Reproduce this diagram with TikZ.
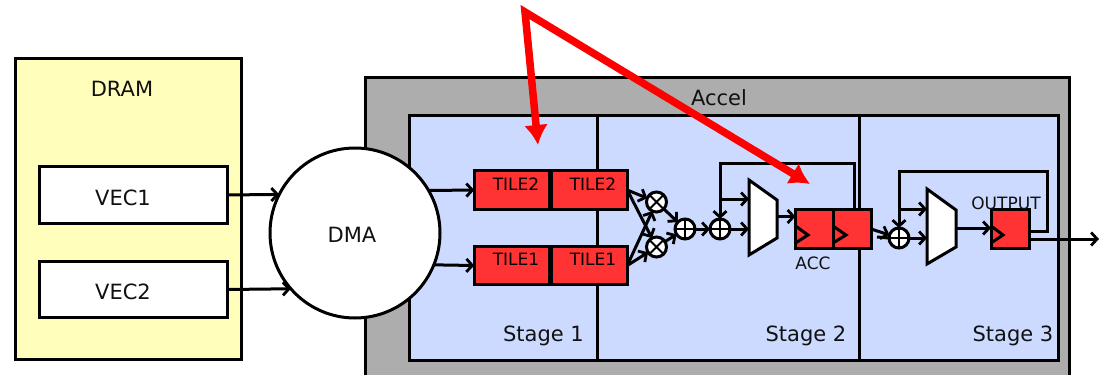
\documentclass[tikz,border=0pt]{standalone}
\usepackage{fontspec}
\setmainfont{DejaVu Sans}
\usetikzlibrary{arrows.meta}
\definecolor{dramfill}{HTML}{FFFFBB}
\definecolor{stagefill}{HTML}{CCDAFF}
\definecolor{accelfill}{HTML}{ADADAD}
\definecolor{regfill}{HTML}{FF3333}
\definecolor{labelgray}{HTML}{111111}
\tikzset{
  base/.style={line width=3pt,draw=black,inner sep=0pt,outer sep=0pt},
  wire/.style={line width=3pt,draw=black,-{Straight Barb[length=6pt,width=13pt,line width=2.8pt]},line join=miter},
  plainwire/.style={line width=3pt,draw=black},
  box/.style={base,fill=white,minimum width=188pt,minimum height=56.5pt},
  tilel/.style={base,fill=regfill,minimum width=75.5pt,minimum height=38.5pt},
  tiler/.style={base,fill=regfill,minimum width=75.5pt,minimum height=38.5pt},
  regbox/.style={base,fill=regfill,minimum width=38pt,minimum height=38.5pt},
  opbase/.style={base,circle,fill=white,minimum size=20pt},
  mulop/.style={opbase,path picture={\draw[line width=2pt]
    (path picture bounding box.north west)--(path picture bounding box.south east)
    (path picture bounding box.north east)--(path picture bounding box.south west);}},
  addop/.style={opbase,path picture={\draw[line width=2pt]
    (path picture bounding box.north)--(path picture bounding box.south)
    (path picture bounding box.east)--(path picture bounding box.west);}},
  muxshape/.style={line width=3pt,draw=black,fill=white,line join=miter},
  clock/.style={line width=3pt,draw=black,line join=miter},
  txt/.style={inner sep=0pt,font=\fontsize{21}{24}\selectfont,text=labelgray},
  small/.style={inner sep=0pt,font=\fontsize{17}{20}\selectfont,text=labelgray},
  redarrow/.style={line width=7.5pt,draw=red,line join=miter,{Latex[length=20pt,width=24pt,red]}-{Latex[length=20pt,width=24pt,red]}}
}
\begin{document}
\begin{tikzpicture}[x=1pt,y=-1pt]
\useasboundingbox (0,0) rectangle (1101,375);
\clip (0,0) rectangle (1101,375);
\fill[white] (0,0) rectangle (1101,375);

% DRAM
\node[base,fill=dramfill,minimum width=226pt,minimum height=301pt] (dram) at (128,208.5) {};
\node[txt] (dramlab) at (122,89) {DRAM};
\node[box] (vec1) at (133,195) {};
\node[txt] (vec1lab) at (123,197.5) {VEC1};
\node[box] (vec2) at (133,289.5) {};
\node[txt] (vec2lab) at (123,291.5) {VEC2};

% Accel
\node[base,fill=accelfill,minimum width=704pt,minimum height=323pt] (accel) at (717,238.5) {};
\node[txt] (accellab) at (719,98) {Accel};
\node[base,fill=stagefill,minimum width=649pt,minimum height=245pt] (stages) at (733.5,237.5) {};
\coordinate (d1) at (597,115);
\coordinate (d2) at (859,115);
\draw[plainwire] (d1) -- (d1 |- stages.south);
\draw[plainwire] (d2) -- (d2 |- stages.south);
\node[txt] (s1) at (543.5,336) {Stage 1};
\node[txt] (s2) at (806,336) {Stage 2};
\node[txt] (s3) at (1013,336) {Stage 3};

% DMA
\node[base,circle,fill=white,minimum size=170pt] (dma) at (355,233) {};
\node[txt] (dmalab) at (352,235) {DMA};

% Tiles
\node[tilel] (t2a) at (512,190) {};
\node[tiler] (t2b) at (589.5,190) {};
\node[tilel] (t1a) at (512,265.5) {};
\node[tiler] (t1b) at (589.5,265.5) {};
\node[small,text=black] (t2al) at (516,184) {TILE2};
\node[small,text=black] (t2bl) at (593,184) {TILE2};
\node[small,text=black] (t1al) at (516,259) {TILE1};
\node[small,text=black] (t1bl) at (593,259) {TILE1};

% Operators
\node[mulop] (m1) at (656.5,202) {};
\node[mulop] (m2) at (656.5,247) {};
\node[addop] (a1) at (685,229) {};
\node[addop] (a2) at (720,229) {};
\node[addop] (a3) at (899,238) {};

% Muxes
\coordinate (mux1tl) at (749,180);
\coordinate (mux1tr) at (777,200);
\coordinate (mux1br) at (777,238);
\coordinate (mux1bl) at (749,255);
\coordinate (mux2tl) at (927,189);
\coordinate (mux2tr) at (956,210);
\coordinate (mux2br) at (956,247);
\coordinate (mux2bl) at (927,264);
\draw[muxshape] (mux1tl) -- (mux1tr) -- (mux1br) -- (mux1bl) -- cycle;
\draw[muxshape] (mux2tl) -- (mux2tr) -- (mux2br) -- (mux2bl) -- cycle;

% Registers
\node[regbox] (r1) at (814.5,229) {};
\node[regbox] (r2) at (852,229) {};
\node[regbox] (r3) at (1010,229) {};
\draw[clock] (r1.west |- 0,226) -- (808,235) -- (r1.west |- 0,243);
\draw[clock] (r2.west |- 0,226) -- (846,235) -- (r2.west |- 0,243);
\draw[clock] (r3.west |- 0,226) -- (1003,235) -- (r3.west |- 0,243);
\node[small] (acclab) at (813,263.5) {ACC};
\node[small] (outlab) at (1006,203.5) {OUTPUT};

% Connectors
\draw[wire] (vec1.east) -- (dma.153.4);
\draw[wire] (vec2.east) -- (dma.221.7);
\draw[wire] (dma.30.4) -- (t2a.west);
\draw[wire] (dma.-22.8) -- (t1a.west);
\draw[wire] (t2b.east) -- (m1);
\draw[wire] (t2b.east) -- (m2);
\draw[wire] (t1b.east) -- (m1);
\draw[wire] (t1b.east) -- (m2);
\draw[wire] (m1) -- (a1);
\draw[wire] (m2) -- (a1);
\draw[wire] (a1) -- (a2);
\coordinate (fb1t) at (854,163);
\coordinate (fb1b) at (854,209.7);
\draw[wire] (fb1b) -- (fb1t) -- (a2.north |- fb1t) -- (a2.north);
\coordinate (j1) at (720,199);
\draw[wire] (j1) -- (j1 -| mux1tl);
\draw[wire] (a2.east) -- (a2.east -| mux1tl);
\coordinate (mux1out) at (777,216.5);
\draw[wire] (mux1out) -- (mux1out -| r1.west);
\coordinate (r2out) at (871,229);
\draw[wire] (r2out) -- (a3);
\coordinate (r2in) at (877,237);
\draw[plainwire] (r2in) -- (a3.west);
\coordinate (fb2a) at (1029,231);
\coordinate (fb2b) at (1047.5,171);
\draw[wire] (fb2a) -- (fb2a -| fb2b) -- (fb2b) -- (a3.north |- fb2b) -- (a3.north);
\coordinate (j2) at (899,209);
\draw[wire] (j2) -- (j2 -| mux2tl);
\draw[wire] (a3.east) -- (a3.east -| mux2tl);
\coordinate (mux2out) at (956,228);
\draw[wire] (mux2out) -- (mux2out -| r3.west);
\coordinate (outa) at (1029,239);
\coordinate (outb) at (1099,239);
\draw[wire] (outa) -- (outb);

% Red annotation arrows
\coordinate (apex) at (525,12);
\coordinate (red1) at (538,145);
\coordinate (red2) at (810,184);
\draw[redarrow] (red1) -- (apex) -- (red2);
\end{tikzpicture}
\end{document}
